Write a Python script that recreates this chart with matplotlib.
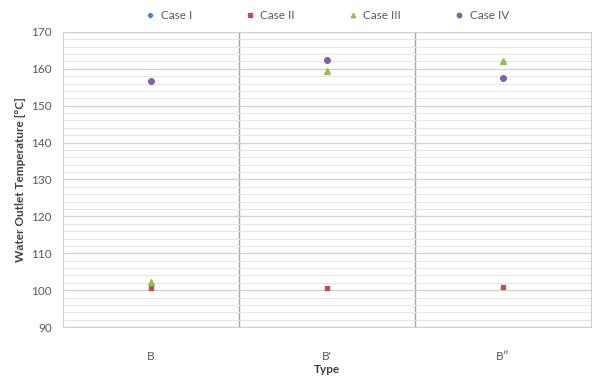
import matplotlib
matplotlib.use("Agg")
import matplotlib.pyplot as plt
from matplotlib.ticker import MultipleLocator, FixedLocator

plt.rcParams['font.family'] = ['Lato', 'DejaVu Sans']

types = ["B", "B'", "B\u2033"]
case_1 = [156.7, 162.3, 157.4]
case_2 = [100.6, 100.5, 100.9]
case_3 = [102.1, 159.4, 162.1]
case_4 = [156.7, 162.3, 157.4]

series = [
    ("Case I", case_1, "#4F81BD", "D", 3),
    ("Case II", case_2, "#C0504D", "s", 3.5),
    ("Case III", case_3, "#9BBB59", "^", 4),
    ("Case IV", case_4, "#8064A2", "o", 4),
]

fig = plt.figure(figsize=(5.99, 3.79), dpi=100)
ax = fig.add_axes([0.105, 0.137, 0.882, 0.779])

x = list(range(len(types)))
for name, vals, color, marker, ms in series:
    ax.plot(x, vals, linestyle="none", marker=marker, color=color,
            markersize=ms, label=name)

ax.set_xlim(-0.5, len(types) - 0.5)
ax.set_ylim(90, 170)
ax.yaxis.set_major_locator(MultipleLocator(10))
ax.yaxis.set_minor_locator(MultipleLocator(2))
ax.set_xticks(x)
ax.set_xticklabels(types)
ax.xaxis.set_minor_locator(FixedLocator([0.5, 1.5]))

ax.grid(which="major", axis="y", color="#d4d4d4", linewidth=1.0)
ax.grid(which="minor", axis="y", color="#e6e6e6", linewidth=0.8)
ax.grid(which="minor", axis="x", color="#a6a6a6", linewidth=1.0)
ax.set_axisbelow(True)

for s in ax.spines.values():
    s.set_color("#d0d0d0")
ax.tick_params(which="both", length=0, labelsize=8.5, colors="#595959", pad=8)
ax.tick_params(axis="x", pad=17)

ax.set_ylabel("Water Outlet Temperature [\u00b0C]", fontsize=8.5, fontweight="bold",
              color="#404040")
ax.set_xlabel("Type", fontsize=8.5, fontweight="bold", color="#404040", labelpad=2)

ax.legend(loc="lower center", bbox_to_anchor=(0.5, 1.0), ncol=4, frameon=False,
          fontsize=8.5, handlelength=0.8, handletextpad=0.5, columnspacing=4.5,
          labelcolor="#595959", markerscale=0.8)

fig.savefig("out.png", dpi=100)
